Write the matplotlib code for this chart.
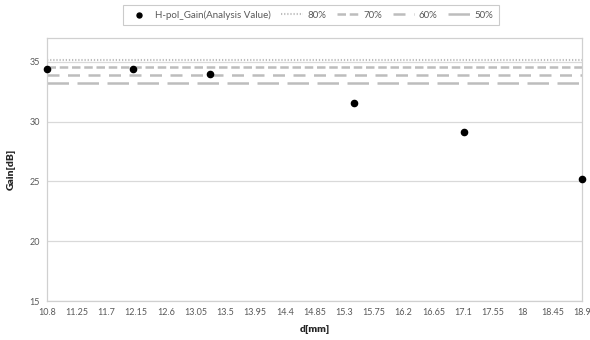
import numpy as np
import matplotlib
matplotlib.use("Agg")
import matplotlib.pyplot as plt

# Measured gain versus distance
d_mm = [10.8, 12.1, 13.27, 15.45, 17.12, 18.9]
gain_db = [34.45, 34.45, 33.98, 31.55, 29.18, 25.25]

# Efficiency reference levels [dB]
level_names = ["80%", "70%", "60%", "50%"]
level_values = [35.2, 34.6, 33.95, 33.2]

x_ticks = [10.8, 11.25, 11.7, 12.15, 12.6, 13.05, 13.5, 13.95, 14.4, 14.85,
           15.3, 15.75, 16.2, 16.65, 17.1, 17.55, 18, 18.45, 18.9]
x_tick_labels = ["10.8", "11.25", "11.7", "12.15", "12.6", "13.05", "13.5", "13.95",
                 "14.4", "14.85", "15.3", "15.75", "16.2", "16.65", "17.1", "17.55",
                 "18", "18.45", "18.9"]
y_ticks = [15, 20, 25, 30, 35]

plt.rcParams['font.family'] = ['Lato', 'DejaVu Sans']

grey_line = "#BDBDBD"
text_col = "#595959"
spine_col = "#D0D0D0"

fig = plt.figure(figsize=(5.9, 3.4), dpi=100)
ax = fig.add_axes([0.0797, 0.1147, 0.9067, 0.7733])

ax.set_xlim(10.8, 18.9)
ax.set_ylim(15, 37)

for y in y_ticks:
    ax.axhline(y, color="#D9D9D9", lw=0.9, zorder=0)

styles = [
    dict(ls=(0, (0.6, 0.9)), lw=1.5),
    dict(ls=(0, (3.4, 1.5)), lw=1.8),
    dict(ls=(0, (4.8, 3.4)), lw=1.8),
    dict(ls=(0, (8.6, 3.4)), lw=1.8),
]
handles = []
sc = ax.scatter(d_mm, gain_db, s=20, color="black", zorder=5, clip_on=False,
                label="H-pol_Gain(Analysis Value)")
handles.append(sc)
for name, val, st in zip(level_names, level_values, styles):
    h = ax.axhline(val, color=grey_line, label=name, zorder=2, **st)
    handles.append(h)

ax.set_xticks(x_ticks)
ax.set_xticklabels(x_tick_labels)
ax.set_yticks(y_ticks)
ax.tick_params(axis="both", length=0, labelsize=6.5, colors=text_col, pad=5)

for sp in ax.spines.values():
    sp.set_color(spine_col)
    sp.set_linewidth(0.9)

ax.set_xlabel("d[mm]", fontsize=7.5, fontweight="heavy", color="#262626", labelpad=6)
ax.set_ylabel("Gain[dB]", fontsize=7.5, fontweight="heavy", color="#262626", labelpad=10)

leg = fig.legend(handles=handles, loc="center", bbox_to_anchor=(0.527, 0.956),
                 ncol=5, fontsize=7, frameon=True, fancybox=False,
                 edgecolor="#BFBFBF", handlelength=2.2, columnspacing=1.1,
                 handletextpad=0.5, borderpad=0.55, labelcolor=text_col,
                 markerscale=0.8)
leg.get_frame().set_linewidth(0.8)

fig.savefig("out.png", dpi=100)
